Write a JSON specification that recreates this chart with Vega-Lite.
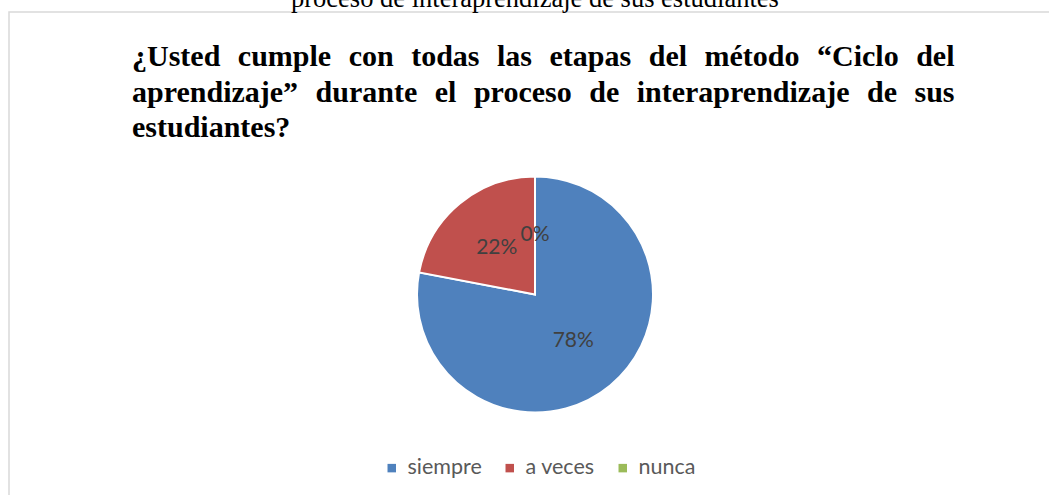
{
  "$schema": "https://vega.github.io/schema/vega-lite/v6.json",
  "width": 1040,
  "height": 483,
  "autosize": {"type": "none"},
  "padding": {"left": 9, "top": 12, "right": 0, "bottom": 0},
  "background": "white",
  "config": {"view": {"stroke": null}},
  "title": {
    "text": "\u200b\u2003\u2003\u2003\u2003\u2003\u2003proceso de interaprendizaje de sus estudiantes",
    "subtitle": [
      "¿Usted \u2004cumple \u2004con \u2004todas \u2004las \u2004etapas \u2004del \u2004método \u2004“Ciclo \u2004del",
      "aprendizaje” \u2004durante \u2004el \u2004proceso \u2004de \u2004interaprendizaje \u2004de \u2004sus",
      "estudiantes?"
    ],
    "anchor": "start",
    "frame": "group",
    "dx": 123,
    "offset": -132,
    "font": "Liberation Serif",
    "fontSize": 26.5,
    "fontWeight": "normal",
    "color": "#000000",
    "subtitleFont": "Liberation Serif",
    "subtitleFontSize": 30,
    "subtitleFontWeight": "bold",
    "subtitleColor": "#000000",
    "subtitleLineHeight": 35.5,
    "subtitlePadding": 30
  },
  "data": {
    "values": [
      {"respuesta": "siempre", "porcentaje": 0.78},
      {"respuesta": "a veces", "porcentaje": 0.22},
      {"respuesta": "nunca", "porcentaje": 0.0}
    ]
  },
  "layer": [
    {
      "data": {"values": [{"marco": "gráfico"}]},
      "mark": {"type": "rect", "fill": null, "stroke": "#d9d9d9", "strokeWidth": 1.5, "strokeDash": [1040, 1523, 483]},
      "encoding": {}
    },
    {
      "mark": {"type": "arc", "outerRadius": 118, "stroke": "white", "strokeWidth": 2, "xOffset": 6, "yOffset": 41},
      "encoding": {
        "theta": {"field": "porcentaje", "type": "quantitative", "stack": true},
        "order": {"field": "porcentaje", "type": "quantitative", "sort": "descending"},
        "color": {
          "field": "respuesta",
          "type": "nominal",
          "scale": {"domain": ["siempre", "a veces", "nunca"], "range": ["#4f81bd", "#c0504d", "#9bbb59"]},
          "legend": {
            "orient": "none",
            "legendX": 372,
            "legendY": 445,
            "direction": "horizontal",
            "title": null,
            "symbolType": "square",
            "symbolSize": 72,
            "symbolStrokeWidth": 0,
            "labelFont": "Lato",
            "labelFontSize": 21.5,
            "labelColor": "#595959",
            "labelOffset": 5,
            "columnPadding": 17
          }
        }
      }
    },
    {
      "mark": {"type": "text", "radius": 60, "xOffset": 6, "yOffset": 41, "font": "Lato", "fontSize": 21, "fill": "#404040"},
      "encoding": {
        "theta": {"field": "porcentaje", "type": "quantitative", "stack": true},
        "order": {"field": "porcentaje", "type": "quantitative", "sort": "descending"},
        "text": {"field": "porcentaje", "type": "quantitative", "format": ".0%"}
      }
    }
  ]
}
